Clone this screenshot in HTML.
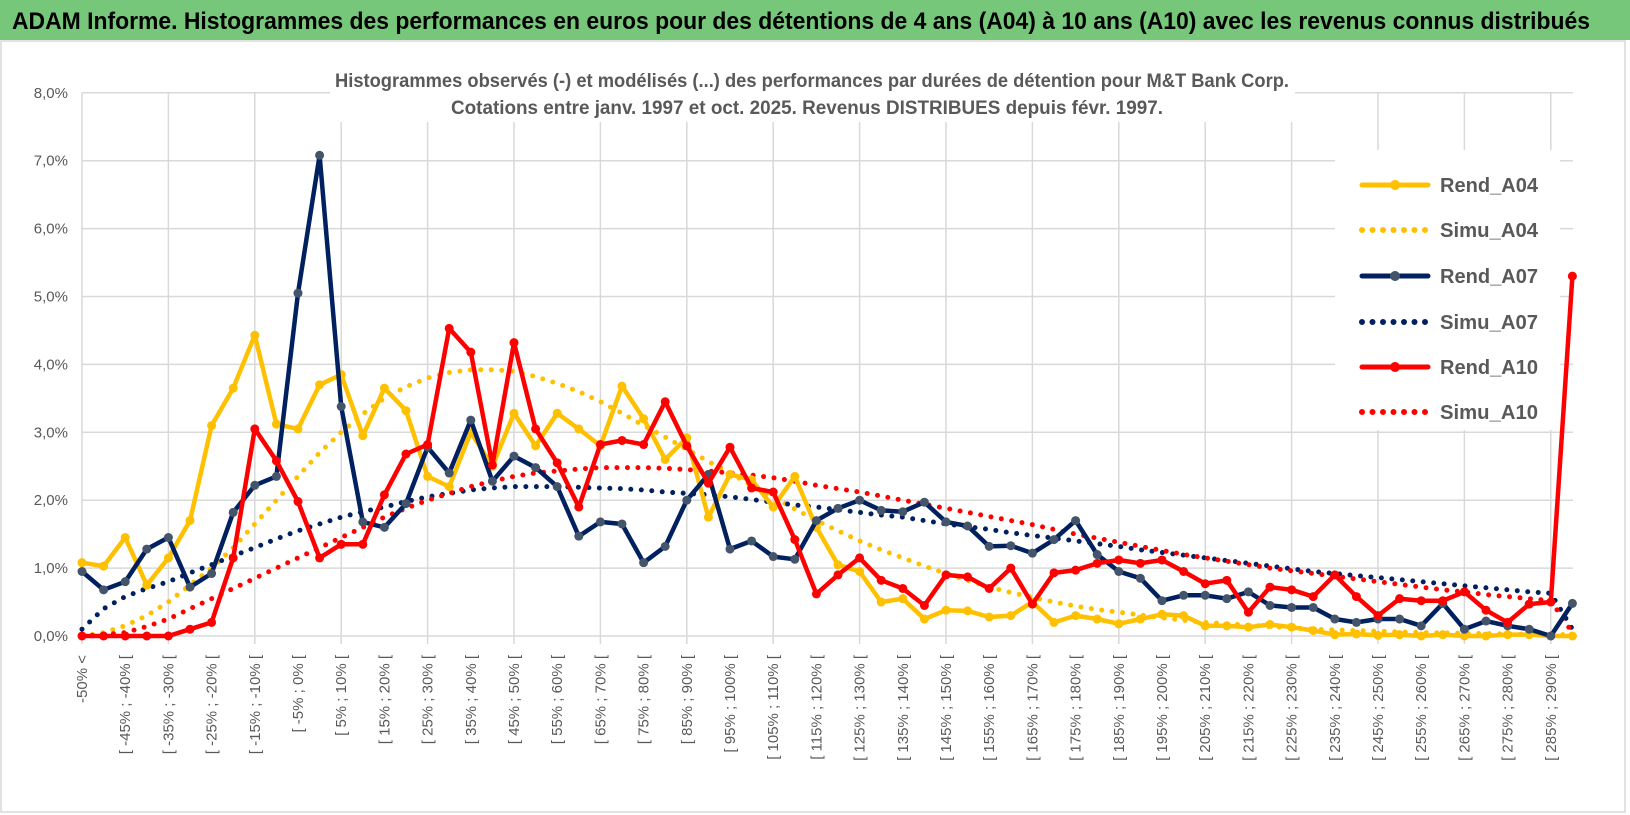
<!DOCTYPE html>
<html><head><meta charset="utf-8"><style>
html,body{margin:0;padding:0;background:#fff;}
svg{display:block;font-family:"Liberation Sans",sans-serif;}
</style></head><body>
<svg id="chart" width="1630" height="815" viewBox="0 0 1630 815" xmlns="http://www.w3.org/2000/svg">
<rect x="0" y="0" width="1630" height="40" fill="#77c77a"/>
<text x="12" y="29" font-size="24" font-weight="bold" fill="#000" textLength="1578" lengthAdjust="spacingAndGlyphs">ADAM Informe. Histogrammes des performances en euros pour des détentions de 4 ans (A04) à 10 ans (A10) avec les revenus connus distribués</text>
<rect x="1" y="41" width="1624" height="771" fill="none" stroke="#d9d9d9" stroke-width="1.5"/>
<g id="grid"></g>
<rect x="1335" y="150" width="225" height="280" fill="#fff"/>
<rect x="330" y="58" width="965" height="64" fill="#fff"/>
<text x="812" y="87" text-anchor="middle" font-size="19" font-weight="bold" fill="#595959" textLength="954" lengthAdjust="spacingAndGlyphs">Histogrammes observés (-) et modélisés (...) des performances par durées de détention pour M&amp;T Bank Corp.</text>
<text x="807" y="114" text-anchor="middle" font-size="19" font-weight="bold" fill="#595959" textLength="712" lengthAdjust="spacingAndGlyphs">Cotations entre janv. 1997 et oct. 2025. Revenus DISTRIBUES depuis févr. 1997.</text>
<g id="axes"></g>
<g id="series"></g>
<g id="legend"></g>
</svg>
<script>
const yTicks = [0,1,2,3,4,5,6,7,8];
const binLows = [-50,-45,-40,-35,-30,-25,-20,-15,-10,-5,0,5,10,15,20,25,30,35,40,45,50,55,60,65,70,75,80,85,90,95,100,105,110,115,120,125,130,135,140,145,150,155,160,165,170,175,180,185,190,195,200,205,210,215,220,225,230,235,240,245,250,255,260,265,270,275,280,285,290];
const rendA04 = [1.08,1.03,1.45,0.75,1.15,1.7,3.1,3.65,4.43,3.12,3.05,3.7,3.85,2.95,3.65,3.32,2.35,2.2,3.0,2.5,3.28,2.8,3.28,3.05,2.8,3.68,3.2,2.6,2.92,1.75,2.38,2.3,1.9,2.35,1.6,1.05,0.95,0.5,0.55,0.25,0.38,0.37,0.28,0.3,0.5,0.2,0.3,0.25,0.18,0.25,0.32,0.3,0.15,0.15,0.13,0.17,0.13,0.08,0.02,0.03,0.01,0.02,0.0,0.02,0.0,0.0,0.02,0.02,0.0,0.0];
const simuA04 = [0.0,0.05,0.15,0.3,0.5,0.75,1.0,1.3,1.65,2.0,2.35,2.7,3.0,3.27,3.5,3.67,3.8,3.88,3.92,3.92,3.9,3.82,3.72,3.6,3.45,3.28,3.1,2.93,2.75,2.57,2.4,2.22,2.05,1.87,1.7,1.55,1.4,1.27,1.15,1.03,0.92,0.82,0.72,0.64,0.57,0.5,0.44,0.39,0.35,0.31,0.27,0.23,0.2,0.18,0.16,0.14,0.12,0.1,0.09,0.08,0.07,0.06,0.05,0.045,0.04,0.035,0.03,0.025,0.02,0.02];
const rendA07 = [0.95,0.68,0.8,1.28,1.45,0.72,0.92,1.82,2.22,2.35,5.05,7.08,3.38,1.68,1.6,1.95,2.78,2.4,3.18,2.28,2.65,2.48,2.2,1.47,1.68,1.65,1.08,1.32,2.0,2.38,1.28,1.4,1.17,1.13,1.7,1.88,2.0,1.85,1.83,1.97,1.68,1.62,1.32,1.33,1.22,1.42,1.7,1.2,0.95,0.85,0.52,0.6,0.6,0.55,0.65,0.45,0.42,0.42,0.25,0.2,0.25,0.25,0.15,0.48,0.1,0.22,0.15,0.1,0.0,0.48];
const simuA07 = [0.1,0.4,0.58,0.7,0.8,0.93,1.05,1.18,1.3,1.43,1.55,1.65,1.75,1.83,1.9,1.98,2.05,2.1,2.15,2.18,2.2,2.2,2.2,2.19,2.18,2.17,2.15,2.12,2.1,2.08,2.05,2.01,1.97,1.93,1.9,1.86,1.82,1.78,1.75,1.7,1.65,1.61,1.57,1.52,1.48,1.44,1.4,1.36,1.32,1.27,1.23,1.19,1.15,1.11,1.07,1.03,0.99,0.95,0.92,0.89,0.86,0.83,0.8,0.77,0.74,0.71,0.68,0.65,0.63,0.1];
const rendA10 = [0,0,0,0,0,0.1,0.2,1.15,3.05,2.58,1.98,1.15,1.35,1.35,2.08,2.68,2.82,4.53,4.18,2.52,4.32,3.05,2.55,1.9,2.82,2.88,2.82,3.45,2.8,2.25,2.78,2.18,2.12,1.42,0.62,0.9,1.15,0.82,0.7,0.45,0.9,0.87,0.7,1.0,0.47,0.93,0.97,1.07,1.12,1.07,1.12,0.95,0.77,0.82,0.35,0.72,0.68,0.58,0.9,0.58,0.3,0.55,0.52,0.52,0.65,0.38,0.2,0.47,0.5,5.3];
const simuA10 = [0.0,0.02,0.05,0.14,0.25,0.4,0.55,0.7,0.85,1.0,1.15,1.3,1.45,1.6,1.75,1.88,2.0,2.1,2.2,2.28,2.35,2.4,2.43,2.46,2.48,2.48,2.48,2.47,2.45,2.43,2.4,2.37,2.33,2.28,2.22,2.17,2.12,2.06,2.0,1.94,1.88,1.82,1.76,1.7,1.64,1.57,1.5,1.44,1.38,1.32,1.26,1.2,1.15,1.1,1.05,1.0,0.96,0.92,0.88,0.84,0.8,0.76,0.72,0.68,0.65,0.61,0.58,0.55,0.52,0.05];
const seriesNames = ["Rend_A04","Simu_A04","Rend_A07","Simu_A07","Rend_A10","Simu_A10"];

const NS="http://www.w3.org/2000/svg";
const X0=82, STEP=21.6, Y0=636, YU=67.9;
const xPos=i=>X0+i*STEP;
const yPos=v=>Y0-v*YU;
function mk(tag,attrs,parent){const e=document.createElementNS(NS,tag);for(const k in attrs)e.setAttribute(k,attrs[k]);parent.appendChild(e);return e;}
const grid=document.getElementById('grid'), axes=document.getElementById('axes'), ser=document.getElementById('series'), leg=document.getElementById('legend');
const nPts=rendA04.length;
function label(i){if(i===0)return "-50% <";const lo=binLows[i-1];return "[ "+lo+"% ; "+(lo+5)+"% [";}
yTicks.forEach(t=>{
  const l=mk('line',{x1:X0,x2:1573,y1:yPos(t),y2:yPos(t),stroke:'#d9d9d9','stroke-width':1.5},grid);
  
  
  const tx=mk('text',{x:68,y:yPos(t)+5,'text-anchor':'end','font-size':15,fill:'#595959'},axes);
  tx.textContent=t.toFixed(1).replace('.',',')+'%';
  
  
});
for(let i=0;i<nPts;i+=4){
  const l=mk('line',{x1:xPos(i),x2:xPos(i),y1:yPos(8),y2:Y0+8,stroke:'#d9d9d9','stroke-width':1.5},grid);
  
  
}
for(let i=0;i<nPts;i+=2){
  const x=xPos(i)+5, y=655;
  const tx=mk('text',{x:x,y:y,'text-anchor':'end','font-size':15,fill:'#595959',transform:`rotate(-90 ${x} ${y})`},axes);
  tx.textContent=label(i);
  
  
}
const styles=[
 {data:rendA04,color:'#ffc000',dotted:false,marker:'#ffc000'},
 {data:simuA04,color:'#ffc000',dotted:true},
 {data:rendA07,color:'#002060',dotted:false,marker:'#44546a'},
 {data:simuA07,color:'#002060',dotted:true},
 {data:rendA10,color:'#ff0000',dotted:false,marker:'#ff0000'},
 {data:simuA10,color:'#ff0000',dotted:true}];
const order=[1,3,5,0,2,4];
order.forEach(k=>{
  const s=styles[k];
  const g=mk('g',{},ser);
  
  
  const pts=s.data.map((v,i)=>xPos(i).toFixed(1)+','+yPos(v).toFixed(1)).join(' ');
  const attrs={points:pts,fill:'none',stroke:s.color,'stroke-width':s.dotted?5:4.5,'stroke-linejoin':'round','stroke-linecap':'round'};
  if(s.dotted){attrs['stroke-dasharray']='0 10.5';}
  const pl=mk('polyline',attrs,g);
  
  
  if(!s.dotted){
    s.data.forEach((v,i)=>{
      const c=mk('circle',{cx:xPos(i),cy:yPos(v),r:4.5,fill:s.marker},g);
      
      
    });
  }
});
const legY=[185,230,276,322,367,412];
seriesNames.forEach((n,k)=>{
  const s=styles[k];
  const g=mk('g',{},leg);
  
  
  const la={x1:1362,x2:1428,y1:legY[k],y2:legY[k],stroke:s.color,'stroke-width':s.dotted?6:5,'stroke-linecap':'round'};
  if(s.dotted)la['stroke-dasharray']='0 10.5';
  const l=mk('line',la,g);
  
  
  if(!s.dotted){const c=mk('circle',{cx:1395,cy:legY[k],r:5,fill:s.marker},g);
    
    }
  const t=mk('text',{x:1440,y:legY[k]+7,'font-size':20,'font-weight':'bold',fill:'#595959',textLength:98,lengthAdjust:'spacingAndGlyphs'},g);
  t.textContent=n;
  
  
});
</script>
</body></html>
